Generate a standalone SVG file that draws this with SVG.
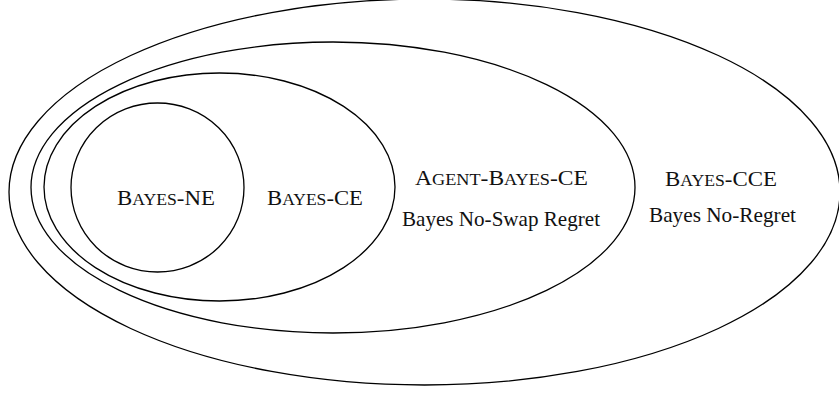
<svg xmlns="http://www.w3.org/2000/svg" width="839" height="394" viewBox="0 0 839 394">
<style>
.set{fill:none;stroke:#000;stroke-width:1.3}
.lbl{font-family:"Liberation Serif","Times New Roman",serif;font-size:22px;fill:#111}
.sc{font-size:17px}
.txt{font-family:"Liberation Serif","Times New Roman",serif;font-size:21px;fill:#111}
</style>
<rect width="839" height="394" fill="#fff"/>
<g id="bayes-cce">
<ellipse class="set" cx="424.5" cy="192" rx="415.5" ry="193"/>
<text class="lbl" x="665" y="186" textLength="112" lengthAdjust="spacingAndGlyphs">B<tspan class="sc">AYES</tspan>-CCE</text>
<text class="txt" x="649" y="222" textLength="147" lengthAdjust="spacingAndGlyphs">Bayes No-Regret</text>
</g>
<g id="agent-bayes-ce">
<ellipse class="set" cx="333" cy="187.5" rx="302" ry="145.5"/>
<text class="lbl" x="415" y="185" textLength="173" lengthAdjust="spacingAndGlyphs">A<tspan class="sc">GENT</tspan>-B<tspan class="sc">AYES</tspan>-CE</text>
<text class="txt" x="402" y="226" textLength="198" lengthAdjust="spacingAndGlyphs">Bayes No-Swap Regret</text>
</g>
<g id="bayes-ce">
<ellipse class="set" cx="219.5" cy="187" rx="175.5" ry="114"/>
<text class="lbl" x="267" y="205" textLength="96" lengthAdjust="spacingAndGlyphs">B<tspan class="sc">AYES</tspan>-CE</text>
</g>
<g id="bayes-ne">
<ellipse class="set" cx="157.5" cy="187.5" rx="86.5" ry="84.5"/>
<text class="lbl" x="117" y="205" textLength="98" lengthAdjust="spacingAndGlyphs">B<tspan class="sc">AYES</tspan>-NE</text>
</g>
</svg>
